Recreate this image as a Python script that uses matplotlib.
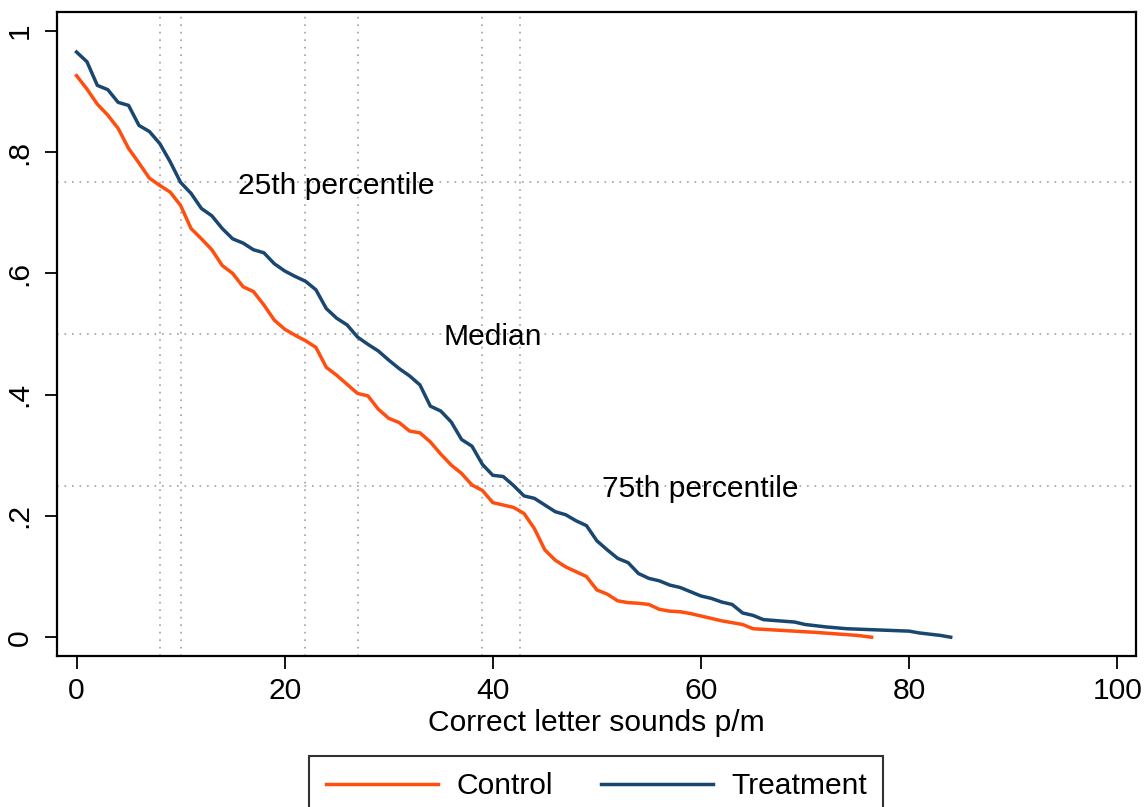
import matplotlib
matplotlib.use('Agg')
import matplotlib.pyplot as plt
from matplotlib.transforms import offset_copy

plt.rcParams['font.family'] = ['Liberation Sans', 'DejaVu Sans']

# survival curves: share of pupils at or above each score
control_x = list(range(0, 61)) + [61, 62, 63, 64, 65, 66, 69, 71, 75, 76.4]
control_y = [0.926, 0.904, 0.879, 0.861, 0.839, 0.806, 0.782, 0.757, 0.745, 0.734,
             0.712, 0.674, 0.657, 0.639, 0.613, 0.600, 0.578, 0.570, 0.548, 0.523,
             0.508, 0.498, 0.489, 0.478, 0.445, 0.432, 0.417, 0.402, 0.398, 0.376,
             0.361, 0.354, 0.340, 0.337, 0.322, 0.302, 0.284, 0.270, 0.251, 0.242,
             0.222, 0.218, 0.214, 0.204, 0.179, 0.144, 0.127, 0.116, 0.108, 0.100,
             0.078, 0.071, 0.060, 0.057, 0.056, 0.054, 0.046, 0.043, 0.042, 0.039,
             0.035, 0.031, 0.027, 0.024, 0.021, 0.014, 0.013, 0.010, 0.008, 0.003, 0.0]

treat_x = list(range(0, 67)) + [69, 70, 72, 74, 80, 81, 83, 84]
treat_y = [0.965, 0.949, 0.910, 0.903, 0.882, 0.877, 0.844, 0.834, 0.814, 0.784,
           0.750, 0.732, 0.707, 0.695, 0.674, 0.657, 0.650, 0.639, 0.634, 0.616,
           0.604, 0.595, 0.587, 0.573, 0.542, 0.526, 0.515, 0.495, 0.483, 0.472,
           0.457, 0.443, 0.431, 0.416, 0.381, 0.373, 0.355, 0.326, 0.315, 0.285,
           0.267, 0.265, 0.250, 0.233, 0.229, 0.218, 0.207, 0.202, 0.192, 0.184,
           0.159, 0.144, 0.130, 0.123, 0.105, 0.097, 0.093, 0.086, 0.082, 0.075,
           0.068, 0.064, 0.058, 0.054, 0.040, 0.036, 0.029,
           0.025, 0.021, 0.017, 0.014, 0.010, 0.007, 0.003, 0.0]

# percentile reference lines
pct_levels = [0.25, 0.5, 0.75]
pct_labels = ['75th percentile', 'Median', '25th percentile']
pct_label_x = [50.5, 35.3, 15.5]
pct_scores = [8, 10, 22, 27, 39, 42.6]

xticks = [0, 20, 40, 60, 80, 100]
yticks = [0, 0.2, 0.4, 0.6, 0.8, 1]
yticklabels = ['0', '.2', '.4', '.6', '.8', '1']

FS = 21.6
fig = plt.figure(figsize=(11.48, 8.07), dpi=100)
ax = fig.add_axes([0.0499, 0.1871, 0.9396, 0.798])

for lv in pct_levels:
    ax.axhline(lv, color='#a0a0a0', lw=1.2, ls=(0, (1, 3.5)), zorder=1)
for sc in pct_scores:
    ax.axvline(sc, color='#a0a0a0', lw=1.2, ls=(0, (1, 3.5)), zorder=1)

ax.plot(control_x, control_y, color='#ff4e0d', lw=2.5, label='Control', zorder=3)
ax.plot(treat_x, treat_y, color='#1a476f', lw=2.5, label='Treatment', zorder=3)

# labels sit a touch below their reference line
txt_tr = offset_copy(ax.transData, fig=fig, x=0, y=-2.5, units='points')
for lab, lx, lv in zip(pct_labels, pct_label_x, pct_levels):
    ax.text(lx, lv, lab, fontsize=FS, ha='left', va='center', zorder=4, transform=txt_tr)

ax.set_xlim(-1.85, 101.8)
ax.set_ylim(-0.031, 1.031)
ax.set_xticks(xticks)
ax.set_yticks(yticks)
ax.set_yticklabels(yticklabels, rotation=90, va='center')
ax.tick_params(axis='both', labelsize=FS, length=9, width=1.3, direction='out')
ax.tick_params(axis='x', pad=6)
ax.tick_params(axis='y', pad=8)
for sp in ax.spines.values():
    sp.set_linewidth(1.6)
ax.set_xlabel('Correct letter sounds p/m', fontsize=FS, labelpad=3)

leg = fig.legend(loc='upper left', bbox_to_anchor=(309 / 1148, 1 - 755.7 / 807),
                 ncol=2, fontsize=FS, frameon=True, fancybox=False, edgecolor='black',
                 handlelength=3.75, handletextpad=0.6, columnspacing=1.6,
                 borderpad=0.55, borderaxespad=0)
leg.get_frame().set_linewidth(1.5)

fig.savefig('out.png', dpi=100)
